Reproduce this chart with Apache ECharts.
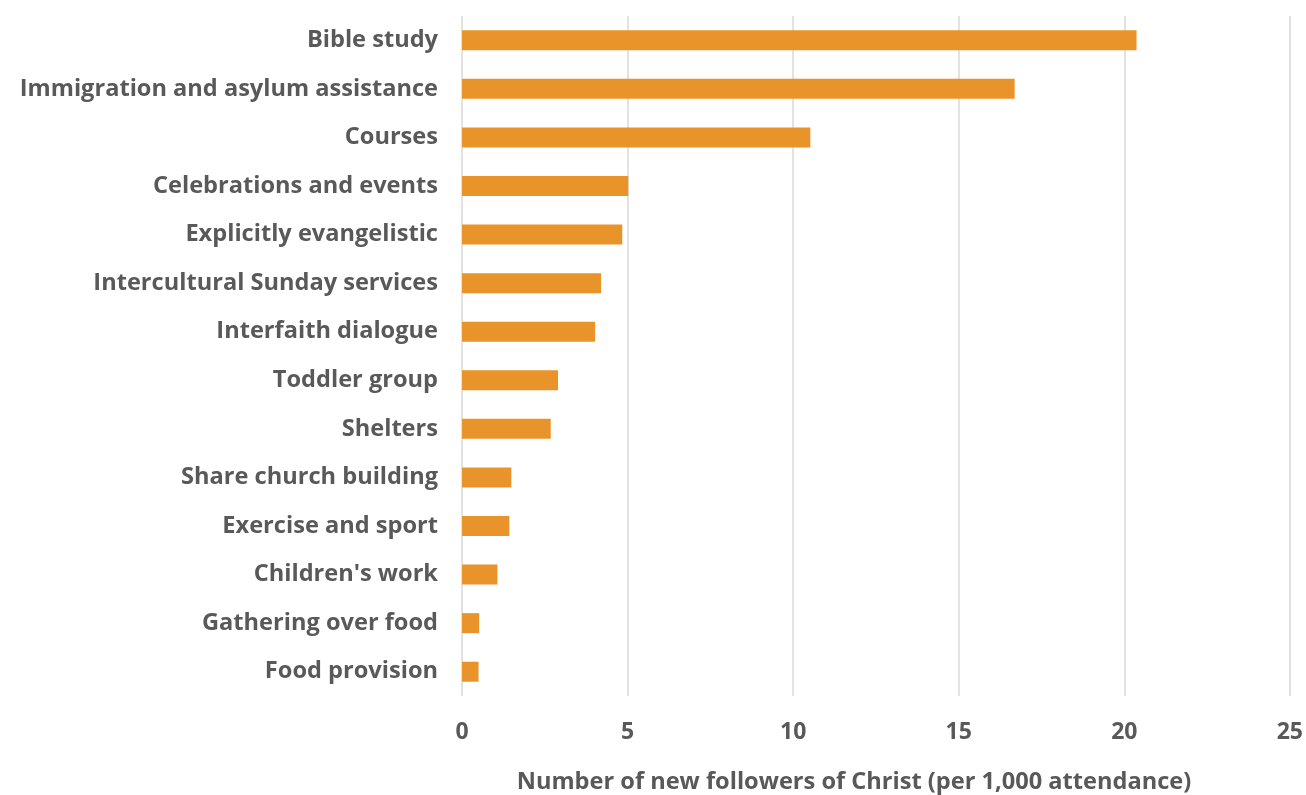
<!DOCTYPE html>
<html>
<head>
<meta charset="utf-8">
<script src="https://cdn.jsdelivr.net/npm/echarts@6/dist/echarts.min.js"></script>
<style>
  html, body { margin: 0; padding: 0; background: #fff; }
  #chart { width: 1306px; height: 795px; }
</style>
</head>
<body>
<div id="chart"></div>
<script>
// categories listed bottom-to-top (ECharts category y axis starts at bottom)
const categories = [
  'Food provision',
  'Gathering over food',
  "Children's work",
  'Exercise and sport',
  'Share church building',
  'Shelters',
  'Toddler group',
  'Interfaith dialogue',
  'Intercultural Sunday services',
  'Explicitly evangelistic',
  'Celebrations and events',
  'Courses',
  'Immigration and asylum assistance',
  'Bible study'
]
const values = [0.50, 0.52, 1.07, 1.43, 1.49, 2.68, 2.90, 4.02, 4.20, 4.84, 5.02, 10.52, 16.69, 20.37]
const axisName = 'Number of new followers of Christ (per 1,000 attendance)'

const textColor = '#595959'
const fontFamily = '"Open Sans", sans-serif'

const chart = echarts.init(document.getElementById('chart'))

const options = {
  animation: false,
  title: {
    text: axisName,
    left: 849,
    top: 765,
    textAlign: 'center',
    textStyle: { color: textColor, fontSize: 23.6, fontWeight: 'bold', fontFamily: fontFamily }
  },
  grid: {
    left: 462,
    right: 15,
    top: 16,
    bottom: 99
  },
  xAxis: {
    type: 'value',
    min: 0,
    max: 25,
    interval: 5,
    axisLine: { show: false },
    axisTick: { show: false },
    splitLine: { show: true, lineStyle: { color: '#d9d9d9', width: 1.5 } },
    axisLabel: {
      color: textColor, fontSize: 23, fontWeight: 'bold', fontFamily: fontFamily, margin: 25
    }
  },
  yAxis: {
    type: 'category',
    data: categories,
    axisLine: { show: false },
    axisTick: { show: false },
    axisLabel: {
      color: textColor, fontSize: 23.6, fontWeight: 'bold', fontFamily: fontFamily, margin: 24
    }
  },
  series: [
    {
      type: 'bar',
      data: values,
      barWidth: 20,
      itemStyle: { color: '#E8942A' }
    }
  ]
}

chart.setOption(options)
</script>
</body>
</html>
